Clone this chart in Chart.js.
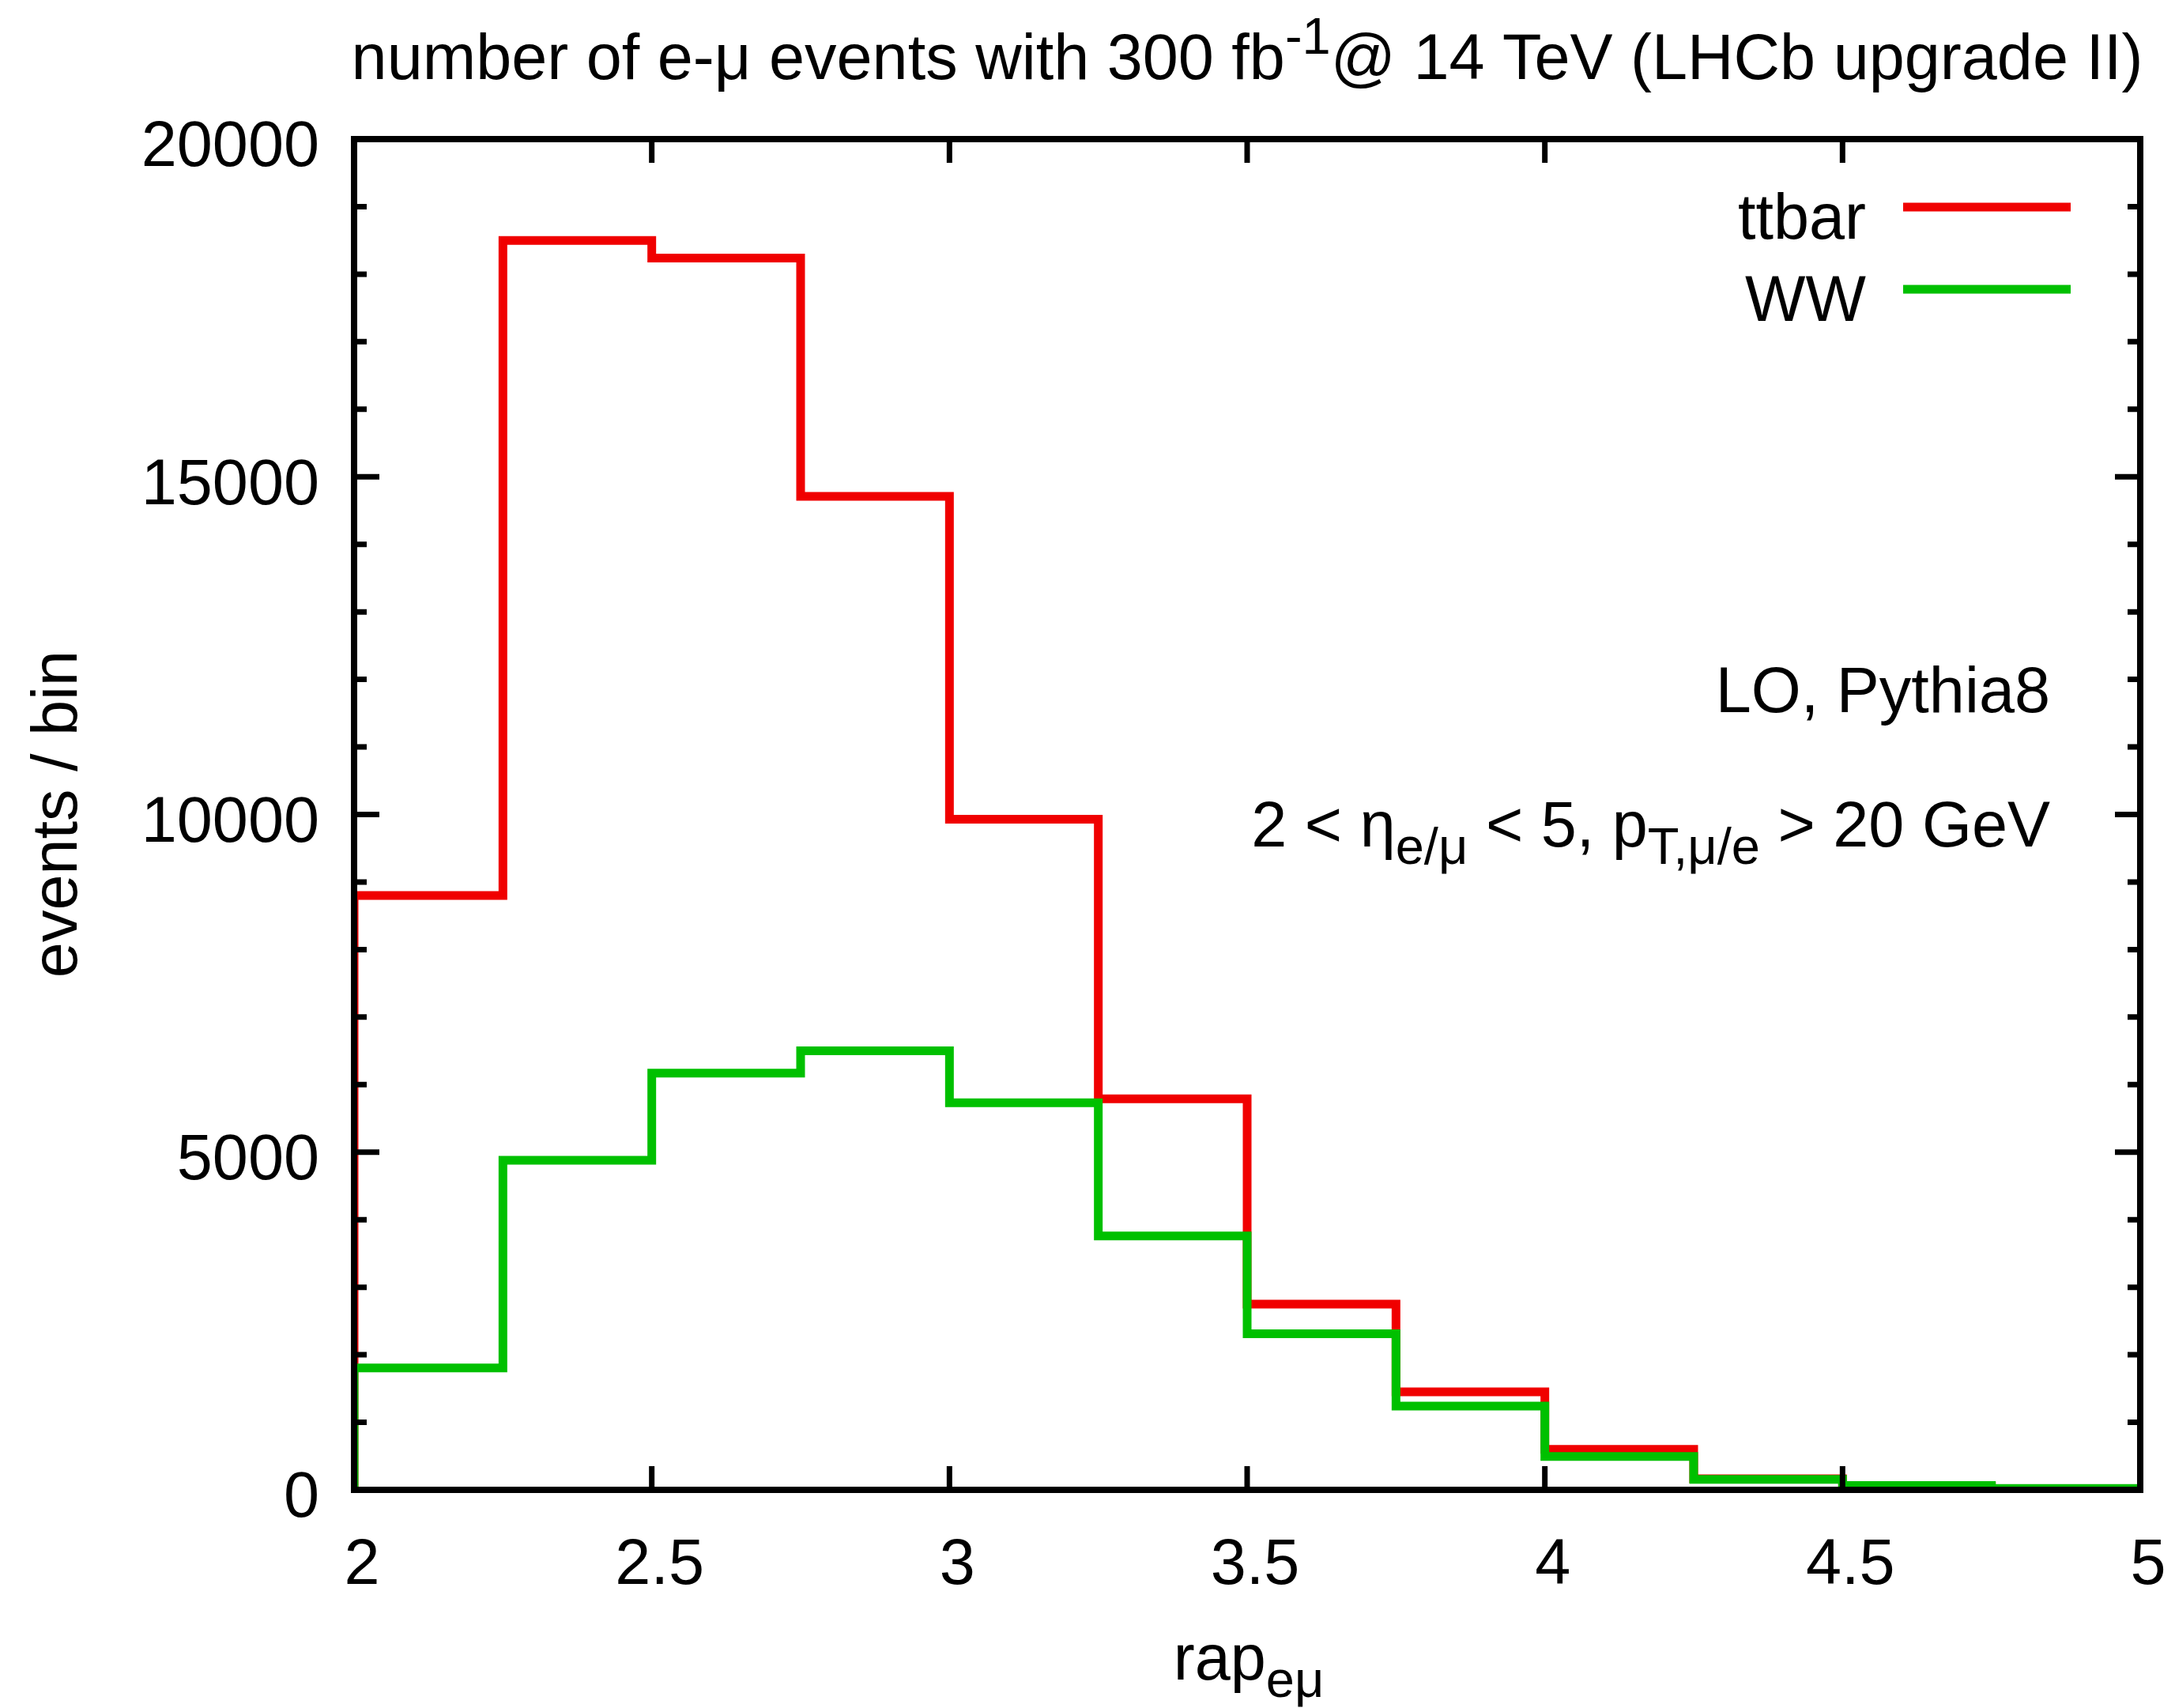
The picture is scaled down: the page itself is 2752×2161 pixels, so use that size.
<!DOCTYPE html>
<html>
<head>
<meta charset="utf-8">
<script src="https://cdn.jsdelivr.net/npm/chart.js@4.4.0/dist/chart.umd.min.js"></script>
<style>
  html, body { margin: 0; padding: 0; background: #fff; overflow: hidden; }
  #wrap { width: 2752px; height: 2161px; }
</style>
</head>
<body>
<div id="wrap"><canvas id="hist"></canvas></div>
<script>
// bin edges in rap_emu and events per bin
var binEdges = [2, 2.25, 2.5, 2.75, 3, 3.25, 3.5, 3.75, 4, 4.25, 4.5, 4.75, 5];
var ttbar = [8800, 18500, 18240, 14710, 9930, 5790, 2750, 1450, 600, 165, 55, 15];
var ww = [1805, 4880, 6170, 6500, 5730, 3760, 2310, 1240, 495, 155, 65, 20];
var xTicks = [2, 2.5, 3, 3.5, 4, 4.5, 5];
var yTicks = [0, 5000, 10000, 15000, 20000];
var yMinorStep = 1000;

var FONT = 'Liberation Sans, Arial, Helvetica, sans-serif';
var SIZE = 81;

// histogram outline: start at 0 on the left edge, then one point per bin, then the right edge
function histPoints(values) {
    var pts = [{ x: binEdges[0], y: 0 }];
    for (var i = 0; i < values.length; i++) {
        pts.push({ x: binEdges[i], y: values[i] });
    }
    pts.push({ x: binEdges[binEdges.length - 1], y: values[values.length - 1] });
    return pts;
}

// draws text made of [string, mode] pieces, mode: 0 normal, 1 subscript, 2 superscript
function richText(ctx, parts, x, y, align) {
    var small = Math.round(SIZE * 0.8);
    var w = 0;
    parts.forEach(function(p) {
        ctx.font = (p[1] ? small : SIZE) + 'px ' + FONT;
        w += ctx.measureText(p[0]).width;
    });
    var cx = align == 'right' ? x - w : (align == 'center' ? x - w / 2 : x);
    ctx.textAlign = 'left';
    ctx.textBaseline = 'alphabetic';
    parts.forEach(function(p) {
        ctx.font = (p[1] ? small : SIZE) + 'px ' + FONT;
        var dy = p[1] == 1 ? 22 : (p[1] == 2 ? -32 : 0);
        ctx.fillText(p[0], cx, y + dy);
        cx += ctx.measureText(p[0]).width;
    });
}

// keep the plot box fixed, no extra room for overhanging tick labels
function noPadding(s) {
    s.paddingLeft = 0; s.paddingRight = 0; s.paddingTop = 0; s.paddingBottom = 0;
}

var decorations = {
    id: 'decorations',
    afterDraw: function(chart) {
        var ctx = chart.ctx;
        var a = chart.chartArea;
        var xs = chart.scales.x;
        var ys = chart.scales.y;
        ctx.save();
        ctx.strokeStyle = '#000';
        ctx.fillStyle = '#000';

        // inward ticks on all four sides
        ctx.lineWidth = 7;
        ctx.beginPath();
        xTicks.forEach(function(v) {
            var px = xs.getPixelForValue(v);
            ctx.moveTo(px, a.bottom); ctx.lineTo(px, a.bottom - 30);
            ctx.moveTo(px, a.top); ctx.lineTo(px, a.top + 30);
        });
        for (var v = yTicks[0]; v <= yTicks[yTicks.length - 1]; v += yMinorStep) {
            var py = ys.getPixelForValue(v);
            var len = yTicks.indexOf(v) >= 0 ? 32 : 16;
            ctx.moveTo(a.left, py); ctx.lineTo(a.left + len, py);
            ctx.moveTo(a.right, py); ctx.lineTo(a.right - len, py);
        }
        ctx.stroke();

        // frame
        ctx.lineWidth = 8;
        ctx.strokeRect(a.left, a.top, a.right - a.left, a.bottom - a.top);

        // title
        richText(ctx, [['number of e-\u03bc events with 300 fb', 0], ['-1', 2], ['@ 14 TeV (LHCb upgrade II)', 0]],
            (a.left + a.right) / 2, 100, 'center');

        // legend
        chart.data.datasets.forEach(function(ds, i) {
            var ly = 262 + i * 104;
            ctx.font = SIZE + 'px ' + FONT;
            ctx.textAlign = 'right';
            ctx.textBaseline = 'alphabetic';
            ctx.fillText(ds.label, 2361, ly + 40);
            ctx.strokeStyle = ds.borderColor;
            ctx.lineWidth = 11;
            ctx.beginPath();
            ctx.moveTo(2408, ly);
            ctx.lineTo(2620, ly);
            ctx.stroke();
        });

        // annotations
        ctx.fillStyle = '#000';
        richText(ctx, [['LO, Pythia8', 0]], 2594, 901, 'right');
        richText(ctx, [['2 < \u03b7', 0], ['e/\u03bc', 1], [' < 5, p', 0], ['T,\u03bc/e', 1], [' > 20 GeV', 0]], 2594, 1071, 'right');

        // axis titles
        richText(ctx, [['rap', 0], ['e\u03bc', 1]], 1580, 2125, 'center');
        ctx.translate(97, 1030);
        ctx.rotate(-Math.PI / 2);
        ctx.font = SIZE + 'px ' + FONT;
        ctx.textAlign = 'center';
        ctx.textBaseline = 'alphabetic';
        ctx.fillText('events / bin', 0, 0);
        ctx.restore();
    }
};

new Chart(document.getElementById('hist').getContext('2d'), {
    type: 'line',
    data: {
        datasets: [
            { label: 'ttbar', data: histPoints(ttbar), borderColor: '#f00000', borderWidth: 11, stepped: 'before', pointRadius: 0, fill: false, order: 1 },
            { label: 'WW', data: histPoints(ww), borderColor: '#00c000', borderWidth: 11, stepped: 'before', pointRadius: 0, fill: false, order: 0 }
        ]
    },
    options: {
        responsive: true,
        maintainAspectRatio: false,
        animation: false,
        layout: { padding: { top: 176, right: 44, left: 0, bottom: 0 } },
        plugins: { legend: { display: false }, title: { display: false }, tooltip: { enabled: false } },
        scales: {
            x: {
                type: 'linear', min: 2, max: 5,
                grid: { display: false, drawTicks: false },
                border: { display: false },
                afterBuildTicks: function(s) { s.ticks = xTicks.map(function(v) { return { value: v }; }); },
                afterFit: function(s) { s.height = 276; noPadding(s); },
                ticks: {
                    color: '#000', padding: 48, labelOffset: 10, maxRotation: 0, autoSkip: false,
                    font: { family: FONT, size: SIZE },
                    callback: function(v) { return String(v); }
                }
            },
            y: {
                type: 'linear', min: 0, max: 20000,
                grid: { display: false, drawTicks: false },
                border: { display: false },
                afterBuildTicks: function(s) { s.ticks = yTicks.map(function(v) { return { value: v }; }); },
                afterFit: function(s) { s.width = 448; noPadding(s); },
                ticks: {
                    color: '#000', padding: 44, labelOffset: 12, autoSkip: false,
                    font: { family: FONT, size: SIZE },
                    callback: function(v) { return String(v); }
                }
            }
        }
    },
    plugins: [decorations]
});
</script>
</body>
</html>
